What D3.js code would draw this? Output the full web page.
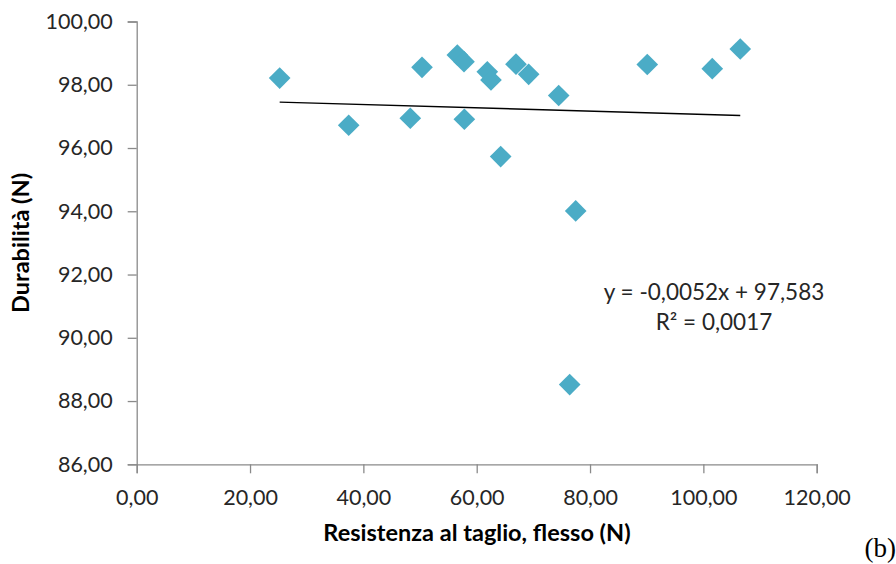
<!DOCTYPE html>
<html>
<head>
<meta charset="utf-8">
<script src="https://cdn.jsdelivr.net/npm/d3@7/dist/d3.min.js"></script>
<style>
  html, body { margin: 0; padding: 0; background: #fff; }
  svg { display: block; }
  .tick text { font-family: Lato, "Open Sans", sans-serif; fill: #262626; }
</style>
</head>
<body>
<svg id="chart" width="896" height="564"></svg>
<script>
// Resistenza al taglio, flesso (N)
const resistenza = [25.23, 37.41, 48.28, 50.35, 56.58, 57.76, 57.82, 61.87, 62.52,
                    64.23, 66.93, 69.17, 74.47, 77.47, 76.41, 90.10, 101.57, 106.51];
// Durabilità (N)
const durabilita = [98.21, 96.72, 96.94, 98.55, 98.94, 98.73, 96.91, 98.41, 98.15,
                    95.73, 98.65, 98.33, 97.66, 94.01, 88.52, 98.64, 98.51, 99.13];

const xTicks = [0, 20, 40, 60, 80, 100, 120];
const yTicks = [86, 88, 90, 92, 94, 96, 98, 100];

// Linear trendline y = slope * x + intercept
const trendSlope = -0.0052;
const trendIntercept = 97.583;
const trendR2 = 0.0017;

const fmt = v => v.toFixed(2).replace(".", ",");
const fmtN = (v, d) => v.toFixed(d).replace(".", ",");

const svg = d3.select("#chart");
const plotLeft = 136.7, plotRight = 816.7, plotTop = 21.5, plotBottom = 464.3;

const x = d3.scaleLinear().domain([0, 120]).range([plotLeft, plotRight]);
const y = d3.scaleLinear().domain([86, 100]).range([plotBottom, plotTop]);

const axisColor = "#8a8a8a";

// X axis
const gx = svg.append("g")
  .attr("transform", `translate(0,${plotBottom})`)
  .call(d3.axisBottom(x).tickValues(xTicks).tickFormat(fmt).tickSizeOuter(0).tickSize(9).tickPadding(16));
gx.select(".domain").attr("stroke", axisColor).attr("stroke-width", 1.3);
gx.selectAll(".tick line").attr("stroke", axisColor).attr("stroke-width", 1.3);
gx.selectAll(".tick text").attr("font-size", 21.5);

// Y axis
const gy = svg.append("g")
  .attr("transform", `translate(${plotLeft},0)`)
  .call(d3.axisLeft(y).tickValues(yTicks).tickFormat(fmt).tickSizeOuter(0).tickSize(9).tickPadding(15));
gy.select(".domain").attr("stroke", axisColor).attr("stroke-width", 1.3);
gy.selectAll(".tick line").attr("stroke", axisColor).attr("stroke-width", 1.3);
gy.selectAll(".tick text").attr("font-size", 21.5);

// Trendline across the range of the data
const xExt = d3.extent(resistenza);
svg.append("line")
  .attr("x1", x(xExt[0])).attr("y1", y(trendSlope * xExt[0] + trendIntercept))
  .attr("x2", x(xExt[1])).attr("y2", y(trendSlope * xExt[1] + trendIntercept))
  .attr("stroke", "#000").attr("stroke-width", 1.4);

// Diamond markers
const diamond = d3.symbol(d3.symbolSquare, 235);
svg.append("g").selectAll("path")
  .data(resistenza.map((v, i) => [v, durabilita[i]]))
  .join("path")
  .attr("d", diamond)
  .attr("transform", d => `translate(${x(d[0])},${y(d[1])}) rotate(45)`)
  .attr("fill", "#4bacc6");

// Trendline equation
const eq = svg.append("text")
  .attr("font-family", "Lato, 'Open Sans', sans-serif")
  .attr("font-size", 22.5)
  .attr("fill", "#262626")
  .attr("text-anchor", "middle");
eq.append("tspan").attr("x", 714).attr("y", 300)
  .text(`y = ${fmtN(trendSlope, 4)}x + ${fmtN(trendIntercept, 3)}`);
eq.append("tspan").attr("x", 714).attr("y", 330)
  .text(`R² = ${fmtN(trendR2, 4)}`);

// Axis titles
svg.append("text")
  .attr("x", 477).attr("y", 541)
  .attr("text-anchor", "middle")
  .attr("font-family", "Lato, 'Open Sans', sans-serif")
  .attr("font-weight", "bold").attr("font-size", 23.5)
  .attr("fill", "#000")
  .text("Resistenza al taglio, flesso (N)");

svg.append("text")
  .attr("transform", `translate(28.5,${(plotTop + plotBottom) / 2}) rotate(-90)`)
  .attr("text-anchor", "middle")
  .attr("font-family", "Lato, 'Open Sans', sans-serif")
  .attr("font-weight", "bold").attr("font-size", 23.5)
  .attr("fill", "#000")
  .text("Durabilità (N)");

// Panel label
svg.append("text")
  .attr("x", 896).attr("y", 557)
  .attr("text-anchor", "end")
  .attr("font-family", "'Liberation Serif', 'DejaVu Serif', serif")
  .attr("font-size", 27)
  .attr("fill", "#000")
  .text("(b)");
</script>
</body>
</html>
